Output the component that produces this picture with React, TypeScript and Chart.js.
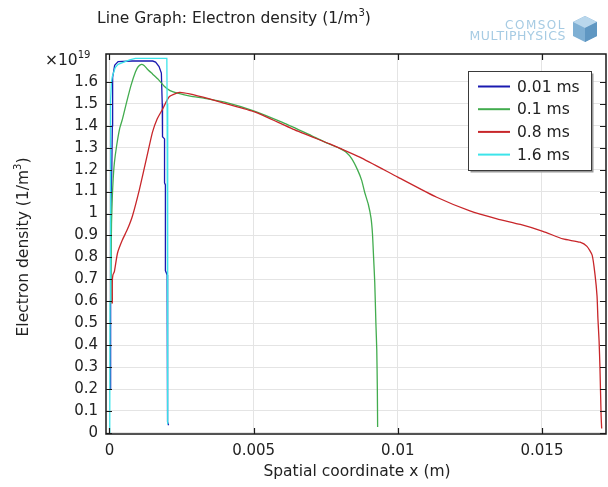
import React, { useEffect, useRef } from "react";
import { Chart, registerables } from "chart.js";

Chart.register(...registerables);

// ---------- data (y values in units of 1e19 1/m^3) ----------
const X_TICKS = [0, 0.005, 0.01, 0.015];
const Y_TICKS = [0, 0.1, 0.2, 0.3, 0.4, 0.5, 0.6, 0.7, 0.8, 0.9, 1, 1.1, 1.2, 1.3, 1.4, 1.5, 1.6];
const SERIES_LABELS = ["0.01 ms", "0.1 ms", "0.8 ms", "1.6 ms"];
const SERIES_COLORS = ["#1a1ab0", "#42ac4e", "#c8262a", "#3ce4ea"];
const SERIES_TENSION = [0, 0.2, 0.2, 0];

const X_001 = [0.00003, 0.00004, 0.00008, 0.0001, 0.00011, 0.00018, 0.0003, 0.0008, 0.0015, 0.0016, 0.00172, 0.0018, 0.00183, 0.00184, 0.00191, 0.00191, 0.00194, 0.00194, 0.002, 0.002, 0.00203, 0.00205];
const Y_001 = [0.2, 0.96, 1.2, 1.4, 1.62, 1.675, 1.692, 1.695, 1.695, 1.69, 1.67, 1.64, 1.5, 1.35, 1.34, 1.14, 1.13, 0.74, 0.72, 0.07, 0.05, 0.035];

const X_01 = [0.00005, 0.00006, 0.00007, 0.0001, 0.00013, 0.00017, 0.00025, 0.00035, 0.00045, 0.0006, 0.00075, 0.0009, 0.001, 0.00111, 0.0012, 0.0013, 0.0015, 0.0017, 0.0019, 0.0021, 0.0024, 0.0028, 0.0033, 0.004, 0.005, 0.006, 0.007, 0.0076, 0.008, 0.0082, 0.0084, 0.0086, 0.00875, 0.00885, 0.00898, 0.00907, 0.00912, 0.00916, 0.0092, 0.00924, 0.00927, 0.00929, 0.0093];
const Y_01 = [0.59, 0.8, 0.95, 1.08, 1.16, 1.23, 1.31, 1.385, 1.43, 1.51, 1.585, 1.645, 1.67, 1.68, 1.675, 1.66, 1.635, 1.61, 1.58, 1.56, 1.547, 1.535, 1.525, 1.508, 1.468, 1.415, 1.355, 1.318, 1.296, 1.28, 1.25, 1.2, 1.15, 1.097, 1.04, 0.98, 0.91, 0.8, 0.686, 0.5, 0.38, 0.2, 0.027];

const X_08 = [0.0001, 0.0001, 0.00012, 0.00017, 0.00028, 0.00045, 0.00063, 0.0008, 0.00104, 0.0013, 0.00149, 0.00165, 0.00184, 0.00208, 0.00243, 0.00278, 0.00347, 0.004, 0.00503, 0.00636, 0.00764, 0.008, 0.00868, 0.01, 0.01135, 0.0125, 0.01344, 0.01425, 0.01503, 0.01573, 0.01632, 0.01656, 0.01674, 0.01684, 0.01691, 0.01694, 0.01698, 0.01701, 0.01705, 0.01707];
const Y_08 = [0.59, 0.69, 0.72, 0.735, 0.82, 0.88, 0.93, 0.99, 1.11, 1.26, 1.37, 1.43, 1.475, 1.533, 1.552, 1.545, 1.522, 1.502, 1.463, 1.385, 1.317, 1.297, 1.257, 1.166, 1.074, 1.012, 0.976, 0.95, 0.919, 0.884, 0.869, 0.85, 0.81, 0.72, 0.622, 0.52, 0.42, 0.3, 0.08, 0.02];

const X_16 = [0.00001, 0.00002, 0.00004, 0.00007, 0.0001, 0.0002, 0.0003, 0.0005, 0.0007, 0.0009, 0.0015, 0.00199, 0.002, 0.00201, 0.00203];
const Y_16 = [0.0, 0.6, 1.52, 1.6, 1.625, 1.665, 1.68, 1.69, 1.7, 1.707, 1.707, 1.707, 1.5, 0.06, 0.04];

const X_MIN = -0.00012;
const X_MAX = 0.01722;
const Y_MIN = -0.005;
const Y_MAX = 1.727;

const FONT = "'DejaVu Sans', sans-serif";

function pts(xs: number[], ys: number[]) {
  return xs.map((x, i) => ({ x, y: ys[i] }));
}

function drawSupText(
  ctx: CanvasRenderingContext2D,
  base: string,
  sup: string,
  tail: string,
  x: number,
  y: number,
  size: number,
  align: "left" | "center"
) {
  ctx.save();
  ctx.textBaseline = "alphabetic";
  ctx.textAlign = "left";
  ctx.font = `${size}px ${FONT}`;
  const wb = ctx.measureText(base).width;
  const wt = ctx.measureText(tail).width;
  ctx.font = `${size * 0.65}px ${FONT}`;
  const ws = ctx.measureText(sup).width;
  const total = wb + ws + wt;
  const x0 = align === "center" ? x - total / 2 : x;
  ctx.font = `${size}px ${FONT}`;
  ctx.fillText(base, x0, y);
  ctx.font = `${size * 0.65}px ${FONT}`;
  ctx.fillText(sup, x0 + wb, y - size * 0.42);
  ctx.font = `${size}px ${FONT}`;
  ctx.fillText(tail, x0 + wb + ws, y);
  ctx.restore();
}

const decorPlugin = {
  id: "comsolDecor",
  afterDatasetsDraw(chart: any) {
    const { ctx, chartArea: a, scales } = chart;
    const xs = scales.x;
    const ys = scales.y;
    ctx.save();
    // frame
    ctx.strokeStyle = "#1a1a1a";
    ctx.lineWidth = 1.5;
    ctx.strokeRect(a.left, a.top, a.right - a.left, a.bottom - a.top);
    // inner tick marks
    ctx.lineWidth = 1.2;
    ctx.beginPath();
    const tl = 6;
    Y_TICKS.forEach((v) => {
      const py = Math.round(ys.getPixelForValue(v)) + 0.5;
      ctx.moveTo(a.left, py);
      ctx.lineTo(a.left + tl, py);
      ctx.moveTo(a.right, py);
      ctx.lineTo(a.right - tl, py);
    });
    X_TICKS.forEach((v) => {
      const px = Math.round(xs.getPixelForValue(v)) + 0.5;
      ctx.moveTo(px, a.bottom);
      ctx.lineTo(px, a.bottom - tl);
      ctx.moveTo(px, a.top);
      ctx.lineTo(px, a.top + tl);
    });
    ctx.stroke();
    ctx.restore();

    // legend box
    ctx.save();
    const lx = 468.5, ly = 71.5, lw = 123, lh = 99;
    ctx.fillStyle = "#ffffff";
    ctx.fillRect(lx, ly, lw, lh);
    ctx.strokeStyle = "#9a9a9a";
    ctx.lineWidth = 2;
    ctx.beginPath();
    ctx.moveTo(lx + 2, ly + lh + 1);
    ctx.lineTo(lx + lw + 1, ly + lh + 1);
    ctx.lineTo(lx + lw + 1, ly + 2);
    ctx.stroke();
    ctx.strokeStyle = "#3a3a3a";
    ctx.lineWidth = 1;
    ctx.strokeRect(lx, ly, lw, lh);
    ctx.font = `15.5px ${FONT}`;
    ctx.textBaseline = "middle";
    ctx.textAlign = "left";
    SERIES_LABELS.forEach((lab, i) => {
      const ry = 86.5 + i * 22.7;
      ctx.strokeStyle = SERIES_COLORS[i];
      ctx.lineWidth = 2;
      ctx.beginPath();
      ctx.moveTo(478, ry);
      ctx.lineTo(510, ry);
      ctx.stroke();
      ctx.fillStyle = "#222222";
      ctx.fillText(lab, 517, ry + 1);
    });
    ctx.restore();
  },
  afterDraw(chart: any) {
    const { ctx } = chart;
    ctx.save();
    ctx.fillStyle = "#222222";
    // title
    drawSupText(ctx, "Line Graph: Electron density (1/m", "3", ")", 97, 23, 15.5, "left");
    // multiplier
    drawSupText(ctx, "×10", "19", "", 45, 65, 15.5, "left");
    // x title
    drawSupText(ctx, "Spatial coordinate x (m)", "", "", 357, 476, 15.5, "center");
    // y title
    ctx.save();
    ctx.translate(28, 247);
    ctx.rotate(-Math.PI / 2);
    drawSupText(ctx, "Electron density (1/m", "3", ")", 0, 0, 15.5, "center");
    ctx.restore();

    // logo text
    ctx.fillStyle = "#a6cbe3";
    ctx.textAlign = "right";
    ctx.textBaseline = "alphabetic";
    (ctx as any).letterSpacing = "1.5px";
    ctx.font = `12px ${FONT}`;
    ctx.fillText("COMSOL", 566, 29);
    (ctx as any).letterSpacing = "0.6px";
    ctx.font = `12.5px ${FONT}`;
    ctx.fillText("MULTIPHYSICS", 566, 40);
    (ctx as any).letterSpacing = "0px";
    // logo cube
    const cx = 585, cy = 29;
    ctx.fillStyle = "#7fb0d4";
    ctx.beginPath();
    ctx.moveTo(cx, cy - 13);
    ctx.lineTo(cx + 12, cy - 7);
    ctx.lineTo(cx + 12, cy + 7);
    ctx.lineTo(cx, cy + 13);
    ctx.lineTo(cx - 12, cy + 7);
    ctx.lineTo(cx - 12, cy - 7);
    ctx.closePath();
    ctx.fill();
    ctx.fillStyle = "#b9d7ec";
    ctx.beginPath();
    ctx.moveTo(cx, cy - 13);
    ctx.lineTo(cx + 12, cy - 7);
    ctx.lineTo(cx, cy - 1);
    ctx.lineTo(cx - 12, cy - 7);
    ctx.closePath();
    ctx.fill();
    ctx.fillStyle = "#5f97c2";
    ctx.beginPath();
    ctx.moveTo(cx, cy - 1);
    ctx.lineTo(cx + 12, cy - 7);
    ctx.lineTo(cx + 12, cy + 7);
    ctx.lineTo(cx, cy + 13);
    ctx.closePath();
    ctx.fill();
    ctx.restore();
  },
};

export default function App() {
  const ref = useRef<HTMLCanvasElement | null>(null);

  useEffect(() => {
    document.body.style.margin = "0";
    const canvas = ref.current;
    if (!canvas) return;
    const series = [
      pts(X_001, Y_001),
      pts(X_01, Y_01),
      pts(X_08, Y_08),
      pts(X_16, Y_16),
    ];
    const chart = new Chart(canvas, {
      type: "line",
      data: {
        datasets: series.map((d, i) => ({
          label: SERIES_LABELS[i],
          data: d,
          borderColor: SERIES_COLORS[i],
          backgroundColor: SERIES_COLORS[i],
          borderWidth: 1.3,
          pointRadius: 0,
          tension: SERIES_TENSION[i],
          fill: false,
          order: 3 - i,
        })),
      },
      options: {
        responsive: false,
        animation: false,
        events: [],
        layout: { padding: { left: 0, right: 2, top: 54, bottom: 0 } },
        plugins: {
          legend: { display: false },
          tooltip: { enabled: false },
          title: { display: false },
        },
        scales: {
          x: {
            type: "linear",
            min: X_MIN,
            max: X_MAX,
            afterBuildTicks: (s: any) => {
              s.ticks = X_TICKS.map((value) => ({ value }));
            },
            afterFit: (s: any) => {
              s.height = 53;
            },
            grid: { color: "#e4e4e4", drawTicks: false, lineWidth: 1 },
            border: { display: false },
            ticks: {
              padding: 8,
              maxRotation: 0,
              autoSkip: false,
              color: "#222222",
              font: { family: FONT, size: 15 },
              callback: (v: any) => String(v),
            },
          },
          y: {
            type: "linear",
            min: Y_MIN,
            max: Y_MAX,
            afterBuildTicks: (s: any) => {
              s.ticks = Y_TICKS.map((value) => ({ value }));
            },
            afterFit: (s: any) => {
              s.width = 106;
            },
            grid: { color: "#e4e4e4", drawTicks: false, lineWidth: 1 },
            border: { display: false },
            ticks: {
              padding: 8,
              autoSkip: false,
              color: "#222222",
              font: { family: FONT, size: 15 },
              callback: (v: any) => String(v),
            },
          },
        },
      },
      plugins: [decorPlugin],
    });
    return () => chart.destroy();
  }, []);

  return (
    <canvas
      ref={ref}
      width={608}
      height={487}
      style={{ display: "block", width: 608, height: 487 }}
    />
  );
}
